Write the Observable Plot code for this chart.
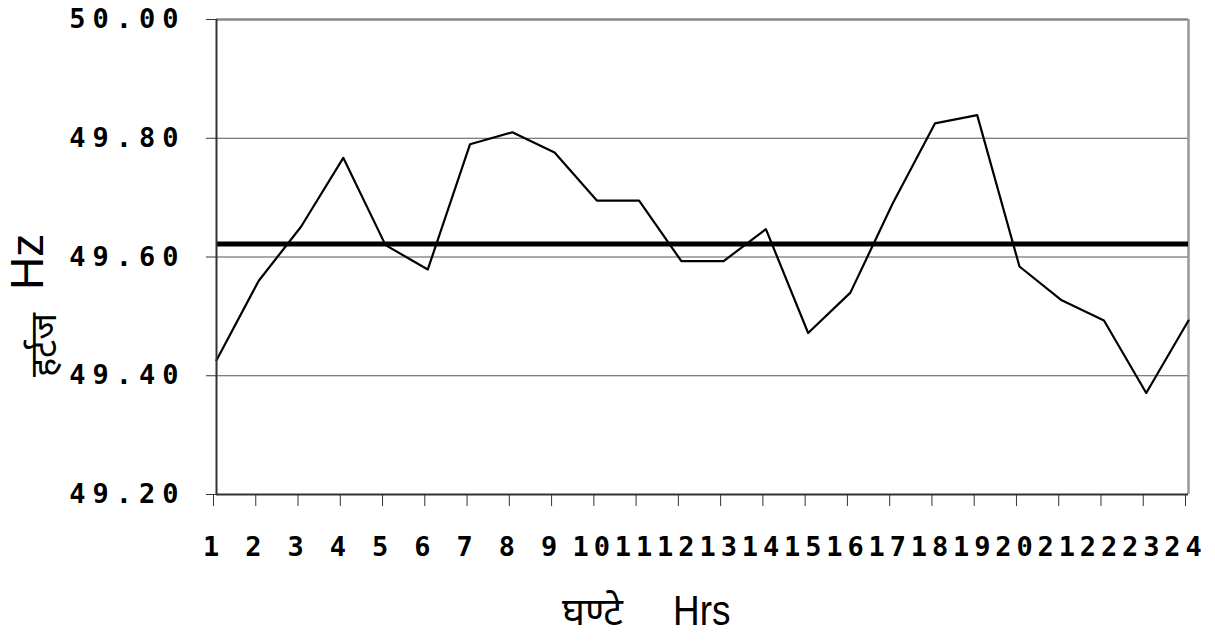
<!DOCTYPE html>
<html>
<head>
<meta charset="utf-8">
<script src="https://cdn.jsdelivr.net/npm/d3@7"></script>
<script src="https://cdn.jsdelivr.net/npm/@observablehq/plot@0.6"></script>
<style>
  html, body { margin: 0; padding: 0; background: #fff; }
  #chart svg g[aria-label="y-axis tick label"] text { letter-spacing: 7px; }
  #chart svg g[aria-label="x-axis tick label"] text { letter-spacing: 5px; }
</style>
</head>
<body>
<div id="chart"></div>
<script>
const hours = [1,2,3,4,5,6,7,8,9,10,11,12,13,14,15,16,17,18,19,20,21,22,23,24];
const freq = [49.426, 49.56, 49.651, 49.767, 49.62, 49.579, 49.79, 49.81, 49.776, 49.695, 49.695, 49.593,
              49.593, 49.647, 49.472, 49.54, 49.69, 49.825, 49.839, 49.584, 49.527, 49.493, 49.371, 49.493];
const avgFreq = 49.622;
const yTicks = [49.2, 49.4, 49.6, 49.8, 50.0];
const gridLines = [49.4, 49.6, 49.8];
const xTitleHi = "घण्टे";
const xTitleEn = "Hrs";
const yTitleHi = "हर्टज";
const yTitleEn = "Hz";

const data = hours.map((h, i) => ({hour: h, f: freq[i]}));

const W = 1215, H = 641;
const chart = Plot.plot({
  width: W,
  height: H,
  marginLeft: 216,
  marginRight: 27,
  marginTop: 19,
  marginBottom: 147,
  style: {background: "#fff", overflow: "visible"},
  x: {type: "linear", domain: [1, 24]},
  y: {domain: [49.2, 50.0]},
  marks: [
    Plot.ruleY(gridLines, {stroke: "#555", strokeWidth: 1}),
    Plot.ruleY([50.0], {stroke: "#888", strokeWidth: 2.5}),
    Plot.ruleX([24], {stroke: "#999", strokeWidth: 2.5}),
    Plot.ruleY([avgFreq], {stroke: "#000", strokeWidth: 5}),
    Plot.line(data, {x: "hour", y: "f", stroke: "#000", strokeWidth: 2.2}),
    Plot.ruleX([1], {stroke: "#333", strokeWidth: 2}),
    Plot.ruleY([49.2], {stroke: "#333", strokeWidth: 2}),
    Plot.axisY({
      ticks: yTicks, tickFormat: d3.format(".2f"), tickSize: 10, tickPadding: 21,
      fontSize: 27, fontFamily: "DejaVu Sans Mono", fontWeight: "bold", fill: "#000",
      stroke: "#333", label: null
    }),
    Plot.axisX({
      ticks: hours, tickFormat: d => String(d), tickSize: 12, tickPadding: 30,
      fontSize: 27, fontFamily: "DejaVu Sans Mono", fontWeight: "bold", fill: "#000",
      stroke: "#333", dx: -3, label: null
    })
  ]
});
document.getElementById("chart").appendChild(chart);

const svg = d3.select(chart);
// x-axis title
svg.append("text").attr("x", 562).attr("y", 625).attr("text-anchor", "start")
  .attr("font-family", "Noto Sans, sans-serif").attr("font-size", 39).attr("fill", "#000")
  .text(xTitleHi);
svg.append("text").attr("transform", "translate(673,625) scale(0.88,1)").attr("text-anchor", "start")
  .attr("font-family", "Liberation Sans, Arial, sans-serif").attr("font-size", 42).attr("fill", "#000")
  .text(xTitleEn);
// y-axis title (rotated)
svg.append("text").attr("transform", "translate(56,377) rotate(-90)").attr("text-anchor", "start")
  .attr("font-family", "Noto Sans, sans-serif").attr("font-size", 36).attr("fill", "#000")
  .text(yTitleHi);
svg.append("text").attr("transform", "translate(43,290) rotate(-90)").attr("text-anchor", "start")
  .attr("font-family", "Liberation Sans, Arial, sans-serif").attr("font-size", 46).attr("fill", "#000")
  .text(yTitleEn);
</script>
</body>
</html>
